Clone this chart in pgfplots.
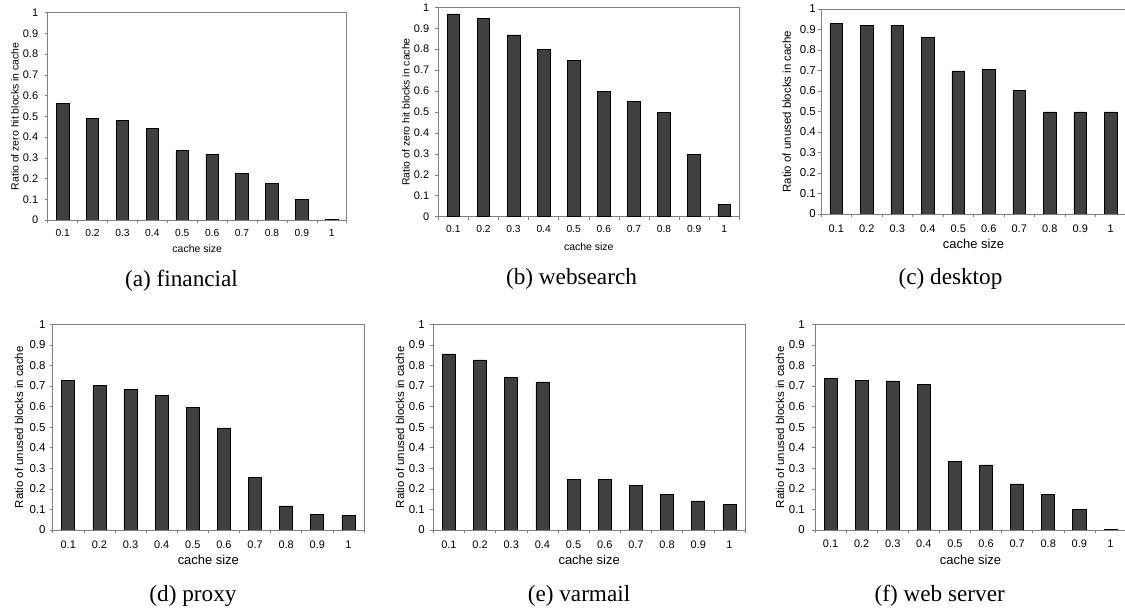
\documentclass[border=0pt]{standalone}
\usepackage{fontspec}
\setmainfont{Liberation Sans}
\newfontfamily\capfont{Liberation Serif}
\usepackage{pgfplots}
\pgfplotsset{compat=1.18}
\definecolor{barfill}{RGB}{64,64,64}
\definecolor{axgray}{RGB}{128,128,128}
\pgfplotsset{
 panel/.style={
  scale only axis, anchor=south west,
  ymin=0, ymax=1, xmin=-0.5, xmax=9.5,
  xtick={-0.5,0.5,...,9.5}, x tick label as interval,
  xticklabels={0.1,0.2,0.3,0.4,0.5,0.6,0.7,0.8,0.9,1},
  ytick={0,0.1,0.2,0.3,0.4,0.5,0.6,0.7,0.8,0.9,1},
  yticklabels={0,0.1,0.2,0.3,0.4,0.5,0.6,0.7,0.8,0.9,1},
  tick pos=left, tick align=outside, major tick length=3bp,
  axis line style={draw=axgray, line width=0.8bp},
  every tick/.style={draw=axgray, line width=0.6bp},
  ybar, bar width=0.42,
  xlabel={cache size},
  xticklabel style={anchor=center, inner sep=0pt},
  yticklabel style={anchor=east, inner sep=0pt},
  every axis y label/.style={rotate=90, anchor=center},
  every axis x label/.style={anchor=center},
 },
 smallf/.style={xticklabel style={font=\fontsize{10.3}{12}\selectfont}, yticklabel style={font=\fontsize{11}{13}\selectfont}, label style={font=\fontsize{10.5}{12}\selectfont}},
 bigf/.style={xticklabel style={font=\fontsize{11}{13}\selectfont}, yticklabel style={font=\fontsize{11.5}{13}\selectfont}, xlabel style={font=\fontsize{13}{15}\selectfont}, ylabel style={font=\fontsize{11.5}{13}\selectfont}},
 barst/.style={fill=barfill, draw=black, line width=0.7bp},
}
\begin{document}
\begin{tikzpicture}
\useasboundingbox (0,0) rectangle (1125bp,611bp);
% (a) financial
\begin{axis}[panel, smallf, at={(47.7bp,391bp)}, width=299bp, height=207.3bp,
  ylabel={Ratio of zero hit blocks in cache},
  ylabel style={at={([xshift=-32.7bp]axis description cs:0,0.5)}},
  xlabel style={at={([yshift=-28.5bp]axis description cs:0.5,0)}},
  xticklabel style={yshift=-10bp}, yticklabel style={xshift=-6.4bp}]
\addplot[barst] coordinates {(0,0.561) (1,0.492) (2,0.481) (3,0.442) (4,0.334) (5,0.317) (6,0.223) (7,0.175) (8,0.100) (9,0.003)};
\end{axis}
% (b) websearch
\begin{axis}[panel, smallf, at={(438.3bp,394.3bp)}, width=301bp, height=209.4bp,
  ylabel={Ratio of zero hit blocks in cache},
  ylabel style={at={([xshift=-32.3bp]axis description cs:0,0.5)}},
  xlabel style={at={([yshift=-30bp]axis description cs:0.5,0)}},
  xticklabel style={yshift=-9.6bp}, yticklabel style={xshift=-6bp}]
\addplot[barst] coordinates {(0,0.968) (1,0.947) (2,0.868) (3,0.799) (4,0.748) (5,0.600) (6,0.551) (7,0.498) (8,0.298) (9,0.059)};
\end{axis}
% (c) desktop
\begin{axis}[panel, bigf, at={(821bp,397bp)}, width=305bp, height=205bp,
  ylabel={Ratio of unused blocks in cache},
  ylabel style={at={([xshift=-34.3bp]axis description cs:0,0.5)}},
  xlabel style={at={([yshift=-30bp]axis description cs:0.5,0)}},
  xticklabel style={yshift=-11.3bp}, yticklabel style={xshift=-2bp}]
\addplot[barst] coordinates {(0,0.930) (1,0.920) (2,0.920) (3,0.862) (4,0.698) (5,0.706) (6,0.603) (7,0.498) (8,0.498) (9,0.498)};
\end{axis}
% (d) proxy
\begin{axis}[panel, bigf, at={(52.7bp,81bp)}, width=311.3bp, height=205.7bp,
  ylabel={Ratio of unused blocks in cache},
  ylabel style={at={([xshift=-33.7bp]axis description cs:0,0.5)}},
  xlabel style={at={([yshift=-30bp]axis description cs:0.5,0)}},
  xticklabel style={yshift=-12bp}, yticklabel style={xshift=-4bp}]
\addplot[barst] coordinates {(0,0.728) (1,0.703) (2,0.684) (3,0.655) (4,0.596) (5,0.496) (6,0.256) (7,0.117) (8,0.076) (9,0.070)};
\end{axis}
% (e) varmail
\begin{axis}[panel, bigf, at={(433.3bp,81bp)}, width=311.7bp, height=205.7bp,
  ylabel={Ratio of unused blocks in cache},
  ylabel style={at={([xshift=-33.3bp]axis description cs:0,0.5)}},
  xlabel style={at={([yshift=-30bp]axis description cs:0.5,0)}},
  xticklabel style={yshift=-12bp}, yticklabel style={xshift=-5.3bp}]
\addplot[barst] coordinates {(0,0.856) (1,0.827) (2,0.742) (3,0.720) (4,0.246) (5,0.246) (6,0.217) (7,0.175) (8,0.141) (9,0.125)};
\end{axis}
% (f) web server
\begin{axis}[panel, bigf, at={(815bp,81bp)}, width=311bp, height=205.7bp,
  ylabel={Ratio of unused blocks in cache},
  ylabel style={at={([xshift=-35bp]axis description cs:0,0.5)}},
  xlabel style={at={([yshift=-30bp]axis description cs:0.5,0)}},
  xticklabel style={yshift=-10.3bp}, yticklabel style={xshift=-7bp}]
\addplot[barst] coordinates {(0,0.736) (1,0.728) (2,0.725) (3,0.708) (4,0.334) (5,0.316) (6,0.224) (7,0.175) (8,0.100) (9,0.002)};
\end{axis}
% captions
\begin{scope}[every node/.style={font=\capfont\fontsize{23.3}{28}\selectfont, anchor=base, inner sep=0pt}]
\node at (181.5bp,324bp) {(a) financial};
\node at (571.5bp,326bp) {(b) websearch};
\node at (950.5bp,326bp) {(c) desktop};
\node at (193bp,9.3bp) {(d) proxy};
\node at (579bp,9.3bp) {(e) varmail};
\node at (939.7bp,9.3bp) {(f) web server};
\end{scope}
\end{tikzpicture}
\end{document}
